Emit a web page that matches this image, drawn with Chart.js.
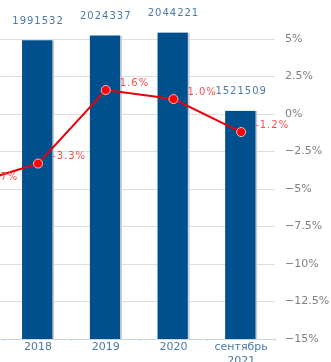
<!DOCTYPE html>
<html>
<head>
<meta charset="utf-8">
<script src="https://cdn.jsdelivr.net/npm/chart.js@4/dist/chart.umd.min.js"></script>
<style>
  html, body { margin: 0; padding: 0; background: #fff; overflow: hidden; }
  #wrap { position: absolute; left: -69px; top: 0; width: 400px; height: 372px; }
</style>
</head>
<body>
<div id="wrap"><canvas id="c"></canvas></div>
<script>
const categories = ['2017', '2018', '2019', '2020', ['сентябрь', '2021']];
const volumes = [2059000, 1991532, 2024337, 2044221, 1521509];
const changes = [-4.7, -3.3, 1.6, 1.0, -1.2];
const pctTicks = [5, 2.5, 0, -2.5, -5, -7.5, -10, -12.5, -15];

const labelPlugin = {
    id: 'valueLabels',
    afterDatasetsDraw(chart) {
        const ctx = chart.ctx;
        ctx.save();
        ctx.font = '10px "DejaVu Sans"';
        ctx.letterSpacing = '1px';
        ctx.textBaseline = 'middle';
        // volume labels above the bars
        ctx.fillStyle = '#4a7aa6';
        ctx.textAlign = 'center';
        chart.getDatasetMeta(1).data.forEach((bar, i) => {
            ctx.fillText(volumes[i], bar.x, bar.y - 19);
        });
        // percent labels right of the points
        ctx.fillStyle = '#ff4a4a';
        ctx.textAlign = 'left';
        chart.getDatasetMeta(0).data.forEach((pt, i) => {
            ctx.fillText(changes[i].toFixed(1) + '%', pt.x + 14, pt.y - 7);
        });
        ctx.restore();
    },
};

new Chart(document.getElementById('c'), {
    data: {
        labels: categories,
        datasets: [
            {
                type: 'line',
                data: changes,
                yAxisID: 'pct',
                borderColor: '#e8000a',
                borderWidth: 2,
                pointRadius: 4.5,
                pointBackgroundColor: '#ff0000',
                pointBorderColor: '#f4c0c0',
                pointBorderWidth: 1,
                tension: 0,
                order: 0,
            },
            {
                type: 'bar',
                data: volumes,
                yAxisID: 'vol',
                backgroundColor: '#00508e',
                borderColor: '#c9ced6',
                borderWidth: { right: 2, left: 0, top: 0, bottom: 0 },
                borderSkipped: false,
                barThickness: 32,
                order: 1,
            },
        ],
    },
    options: {
        responsive: true,
        maintainAspectRatio: false,
        animation: false,
        layout: { padding: { top: 10, left: 0, right: 0, bottom: 0 } },
        plugins: {
            legend: { display: false },
            tooltip: { enabled: false },
        },
        scales: {
            x: {
                grid: {
                    display: true,
                    drawOnChartArea: false,
                    drawTicks: true,
                    tickLength: 2,
                    color: '#c6d4e4',
                },
                border: { color: '#c6d4e4' },
                ticks: {
                    color: '#4a7aa6',
                    font: { family: 'DejaVu Sans', size: 11 },
                    padding: 0,
                    maxRotation: 0,
                },
                afterFit: s => { s.height = 33; },
            },
            vol: {
                position: 'left',
                display: false,
                min: 0,
                max: 2150000,
            },
            pct: {
                position: 'right',
                min: -15,
                max: 6.5,
                grid: { color: '#dedede', drawTicks: false },
                border: { display: false },
                afterBuildTicks: s => {
                    s.ticks = pctTicks.map(v => ({ value: v }));
                },
                ticks: {
                    color: '#808080',
                    padding: 10,
                    font: { family: 'DejaVu Sans', size: 11 },
                    callback: v => String(v).replace('-', '\u2212') + '%',
                },
                afterFit: s => { s.width = 56; },
            },
        },
    },
    plugins: [labelPlugin],
});
</script>
</body>
</html>
